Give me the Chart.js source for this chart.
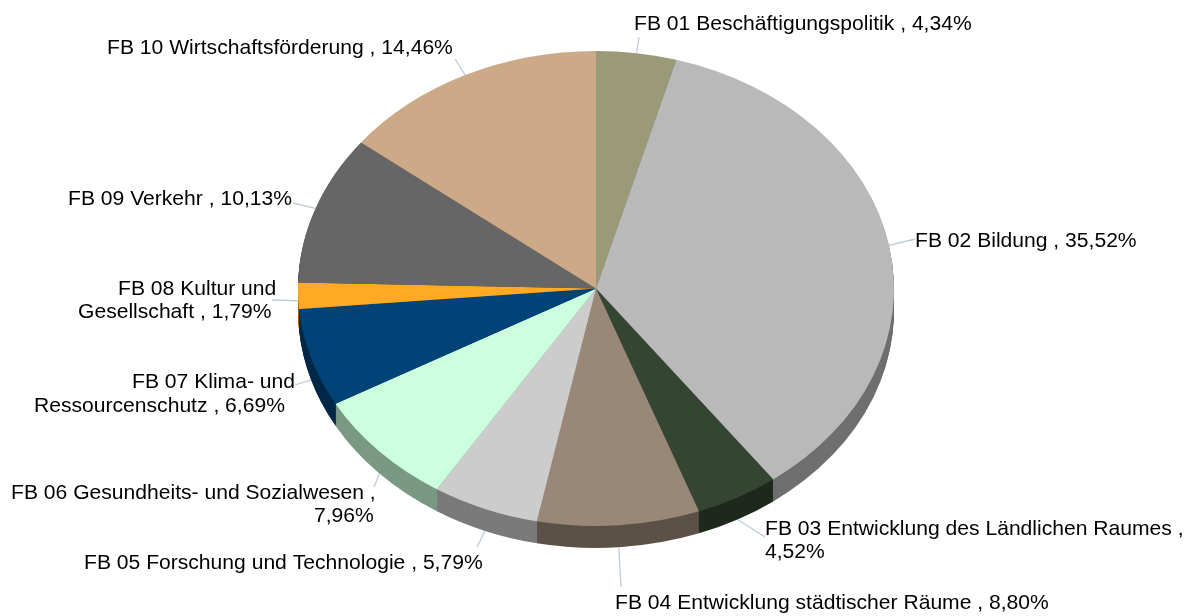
<!DOCTYPE html>
<html>
<head>
<meta charset="utf-8">
<style>html,body{margin:0;padding:0;background:#fff}#w{width:1193px;height:616px}canvas{display:block}</style>
<script src="https://cdn.jsdelivr.net/npm/chart.js@4/dist/chart.umd.min.js"></script>
</head>
<body>
<div id="w"><canvas id="c" width="1193" height="616"></canvas></div>
<script>
const categories = ["FB 01 Beschäftigungspolitik","FB 02 Bildung","FB 03 Entwicklung des Ländlichen Raumes","FB 04 Entwicklung städtischer Räume","FB 05 Forschung und Technologie","FB 06 Gesundheits- und Sozialwesen","FB 07 Klima- und Ressourcenschutz","FB 08 Kultur und Gesellschaft","FB 09 Verkehr","FB 10 Wirtschaftsförderung"];
const shares = [4.34,35.52,4.52,8.80,5.79,7.96,6.69,1.79,10.13,14.46];
const faceColors = ["#9A9A78","#B9B9B9","#344532","#998877","#CCCCCC","#CCFFDD","#004477","#FFAA22","#666666","#CCAA88"];
const sideColors = ["#5C5C48","#6F6F6F","#1F291E","#5C5147","#7A7A7A","#7A9985","#002947","#996614","#3D3D3D","#7A6652"];
const labelLines = [
 [["FB 01 Beschäftigungspolitik , 4,34%",634,30]],
 [["FB 02 Bildung , 35,52%",915,247]],
 [["FB 03 Entwicklung des Ländlichen Raumes ,",765,535],["4,52%",765,558]],
 [["FB 04 Entwicklung städtischer Räume , 8,80%",615,609]],
 [["FB 05 Forschung und Technologie , 5,79%",84,569]],
 [["FB 06 Gesundheits- und Sozialwesen ,",11,499],["7,96%",314,522]],
 [["FB 07 Klima- und",132,388],["Ressourcenschutz , 6,69%",34,412]],
 [["FB 08 Kultur und",118,295],["Gesellschaft , 1,79%",78,318]],
 [["FB 09 Verkehr , 10,13%",68,205]],
 [["FB 10 Wirtschaftsförderung , 14,46%",107,54]]
];
const leaderEnds = [[639,37],[915,239],[765,537],[621,587],[477,547],[374,487],[295,385],[272,300],[293,203],[455,59]];
const leaderDrop = [0,0,22,22,22,22,22,5,0,0];

const CY = 288.5, SQUASH = 237.5/298, DEPTH = 22;

function tilt(ctx, chart){
  const m = chart.getDatasetMeta(0).data[0];
  ctx.translate(0, CY);
  ctx.scale(1, SQUASH);
  ctx.translate(0, -m.y);
}

const tiltPlugin = {
  id:'tilt',
  beforeDatasetsDraw(chart){
    const ctx = chart.ctx, arcs = chart.getDatasetMeta(0).data;
    ctx.save();
    tilt(ctx, chart);
    for(let d = DEPTH; d >= 1; d--){
      ctx.save();
      ctx.translate(0, d/SQUASH);
      arcs.forEach((a,i)=>{
        const o = a.options;
        const over = Object.create(o);
        over.backgroundColor = sideColors[i];
        over.borderColor = sideColors[i];
        a.options = over;
        a.draw(ctx);
        a.options = o;
      });
      ctx.restore();
    }
  },
  afterDatasetsDraw(chart){
    const ctx = chart.ctx, arcs = chart.getDatasetMeta(0).data;
    ctx.restore();
    ctx.save();
    ctx.strokeStyle = '#BCCBDE';
    ctx.lineWidth = 1.3;
    arcs.forEach((a,i)=>{
      const mid = (a.startAngle + a.endAngle)/2;
      const sx = a.x + a.outerRadius*Math.cos(mid);
      const sy = CY + a.outerRadius*Math.sin(mid)*SQUASH + leaderDrop[i];
      ctx.beginPath();
      ctx.moveTo(sx, sy);
      ctx.lineTo(leaderEnds[i][0], leaderEnds[i][1]);
      ctx.stroke();
    });
    ctx.fillStyle = '#000';
    ctx.font = '21.1px "Liberation Sans", Arial, sans-serif';
    ctx.textAlign = 'left';
    ctx.textBaseline = 'alphabetic';
    labelLines.forEach(ls=>ls.forEach(l=>ctx.fillText(l[0], l[1], l[2])));
    ctx.restore();
  }
};

new Chart(document.getElementById('c'), {
  type:'pie',
  data:{labels:categories, datasets:[{data:shares, backgroundColor:faceColors, borderWidth:0, clip:false}]},
  options:{
    responsive:false,
    animation:false,
    layout:{padding:{left:9,right:10,top:10,bottom:10}},
    plugins:{legend:{display:false},tooltip:{enabled:false}}
  },
  plugins:[tiltPlugin]
});
</script>
</body>
</html>
